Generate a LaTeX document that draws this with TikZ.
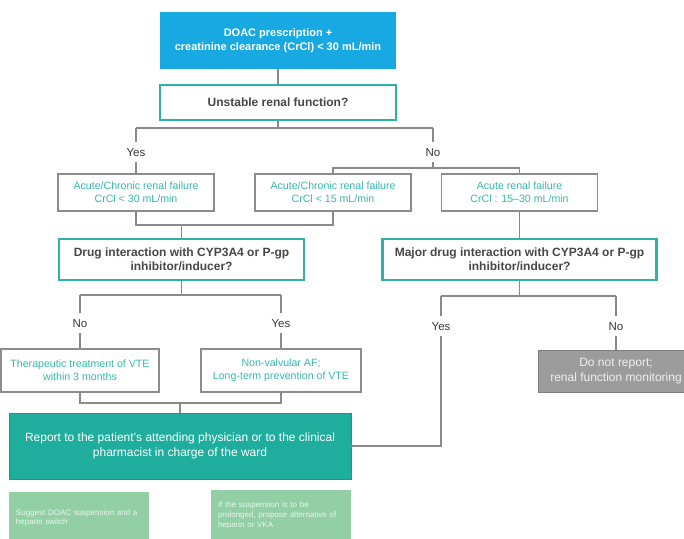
\documentclass[tikz,border=0pt]{standalone}
\usepackage{fontspec}
\setmainfont{Liberation Sans}

\definecolor{doacblue}{HTML}{18A9E3}
\definecolor{tealline}{HTML}{2BB3A5}
\definecolor{reportfill}{HTML}{1FAE9E}
\definecolor{reportline}{HTML}{17998B}
\definecolor{cyantext}{HTML}{35B8B0}
\definecolor{linegray}{HTML}{8A8A8A}
\definecolor{boxgray}{HTML}{8C8C8C}
\definecolor{qtext}{HTML}{474747}
\definecolor{labeltext}{HTML}{353535}
\definecolor{greyfill}{HTML}{9C9C9C}
\definecolor{greyline}{HTML}{7E7E7E}
\definecolor{greytext}{HTML}{EFEFEF}
\definecolor{greenfill}{HTML}{92CFA4}
\definecolor{greentext}{HTML}{EAF6EE}

\begin{document}
\begin{tikzpicture}[x=1pt, y=-1pt,
  conn/.style={draw=linegray, line width=1.1pt},
  topbox/.style={fill=doacblue, text=white, align=center, inner sep=0,
    font=\bfseries\fontsize{11}{14}\selectfont,
    minimum width=236pt, minimum height=57pt},
  qbox/.style={draw=tealline, line width=2.4pt, fill=white, text=qtext,
    align=center, inner sep=0, font=\bfseries\fontsize{12}{14.5}\selectfont},
  cbox/.style={draw=boxgray, line width=1.1pt, fill=white, text=cyantext,
    align=center, inner sep=0, font=\fontsize{10.6}{13}\selectfont,
    minimum width=156pt},
  ans/.style={text=labeltext, font=\fontsize{11.5}{13}\selectfont,
    inner sep=0, text height=8.3pt, text depth=0pt, minimum height=20pt},
  reportbox/.style={fill=reportfill, draw=reportline, line width=0.8pt,
    text=white, align=center, inner sep=0,
    font=\fontsize{12}{15}\selectfont},
  greybox/.style={fill=greyfill, draw=greyline, line width=0.8pt,
    text=greytext, align=center, inner sep=0,
    font=\fontsize{12}{15}\selectfont},
  notebox/.style={fill=greenfill, text=greentext, align=left,
    inner xsep=7pt, inner ysep=0pt, text width=126pt,
    minimum width=140pt, font=\fontsize{8}{9.6}\selectfont}]

\path[use as bounding box, clip] (0,0) rectangle (684,538);

% ---- boxes ----
\node[topbox] (start) at (278,40.5)
  {DOAC prescription +\\creatinine clearance (CrCl) < 30 mL/min};
\node[qbox, minimum width=236pt, minimum height=35pt] (unstable) at (278,102.5)
  {Unstable renal function?};

\node[cbox, minimum height=37pt] (crA) at (136,192.5)
  {Acute/Chronic renal failure\\CrCl < 30 mL/min};
\node[cbox, minimum height=37pt] (crB) at (333,192.5)
  {Acute/Chronic renal failure\\CrCl < 15 mL/min};
\node[cbox, minimum height=37pt] (crC) at (519.5,192.5)
  {Acute renal failure\\CrCl : 15\textendash 30 mL/min};

\node[qbox, minimum width=245pt, minimum height=41pt] (inter) at (181.5,259.5)
  {Drug interaction with CYP3A4 or P-gp\\inhibitor/inducer?};
\node[qbox, minimum width=274pt, minimum height=41pt] (major) at (519.5,259.5)
  {Major drug interaction with CYP3A4 or P-gp\\inhibitor/inducer?};

\node[cbox, minimum width=158pt, minimum height=43pt] (vte) at (80,370.5)
  {Therapeutic treatment of VTE\\within 3 months};
\node[cbox, minimum width=160pt, minimum height=43pt] (af) at (281,370.5)
  {Non-valvular AF;\\Long-term prevention of VTE};
\node[greybox, minimum width=156pt, minimum height=42pt] (noreport) at (616,371)
  {Do not report;\\renal function monitoring};

\node[reportbox, minimum width=342pt, minimum height=66pt] (report) at (180,446)
  {Report to the patient’s attending physician or to the clinical\\pharmacist in charge of the ward};

\node[notebox, minimum height=52pt] (suggest) at (79,518)
  {Suggest DOAC suspension and a\\heparin switch};
\node[notebox, minimum height=51pt] (prolong) at (281,515.5)
  {If the suspension is to be\\prolonged, propose alternative of\\heparin or VKA};

% ---- answer labels ----
\node[ans] (yes1) at (136,152) {Yes};
\node[ans] (no1)  at (433,152) {No};
\node[ans] (no2)  at (80,323)  {No};
\node[ans] (yes2) at (281,323) {Yes};
\node[ans] (yes3) at (441,326) {Yes};
\node[ans] (no3)  at (616,326) {No};

% ---- junction points ----
\coordinate (j1)  at (278,128);
\coordinate (j1L) at (136,128);
\coordinate (j1R) at (433,128);
\coordinate (j2)  at (433,168);
\coordinate (j2L) at (333,168);
\coordinate (j2R) at (519.5,168);
\coordinate (j3L) at (136,225);
\coordinate (j3R) at (333,225);
\coordinate (j3M) at (181.5,225);
\coordinate (j4)  at (181.5,295);
\coordinate (j4L) at (80,295);
\coordinate (j4R) at (281,295);
\coordinate (j5L) at (80,403);
\coordinate (j5R) at (281,403);
\coordinate (j5M) at (180,403);
\coordinate (j6)  at (519.5,296);
\coordinate (j6L) at (441,296);
\coordinate (j6R) at (616,296);
\coordinate (j7)  at (441,446);

% ---- connectors ----
\draw[conn] (start.south) -- (unstable.north);
\draw[conn] (unstable.south) -- (j1);
\draw[conn] (j1L) -- (j1R);
\draw[conn] (j1L) -- (yes1.north);
\draw[conn] (yes1.south) -- (crA.north);
\draw[conn] (j1R) -- (no1.north);
\draw[conn] (no1.south) -- (j2);
\draw[conn] (crB.north) -- (j2L) -- (j2R) -- (crC.north);

\draw[conn] (crA.south) -- (j3L) -- (j3R) -- (crB.south);
\draw[conn] (j3M) -- (inter.north);
\draw[conn] (crC.south) -- (major.north);

\draw[conn] (inter.south) -- (j4);
\draw[conn] (j4L) -- (j4R);
\draw[conn] (j4L) -- (no2.north);
\draw[conn] (no2.south) -- (vte.north);
\draw[conn] (j4R) -- (yes2.north);
\draw[conn] (yes2.south) -- (af.north);

\draw[conn] (vte.south) -- (j5L) -- (j5R) -- (af.south);
\draw[conn] (j5M) -- (report.north);

\draw[conn] (major.south) -- (j6);
\draw[conn] (j6L) -- (j6R);
\draw[conn] (j6L) -- (yes3.north);
\draw[conn] (yes3.south) -- (j7) -- (report.east);
\draw[conn] (j6R) -- (no3.north);
\draw[conn] (no3.south) -- (noreport.north);

\end{tikzpicture}
\end{document}
